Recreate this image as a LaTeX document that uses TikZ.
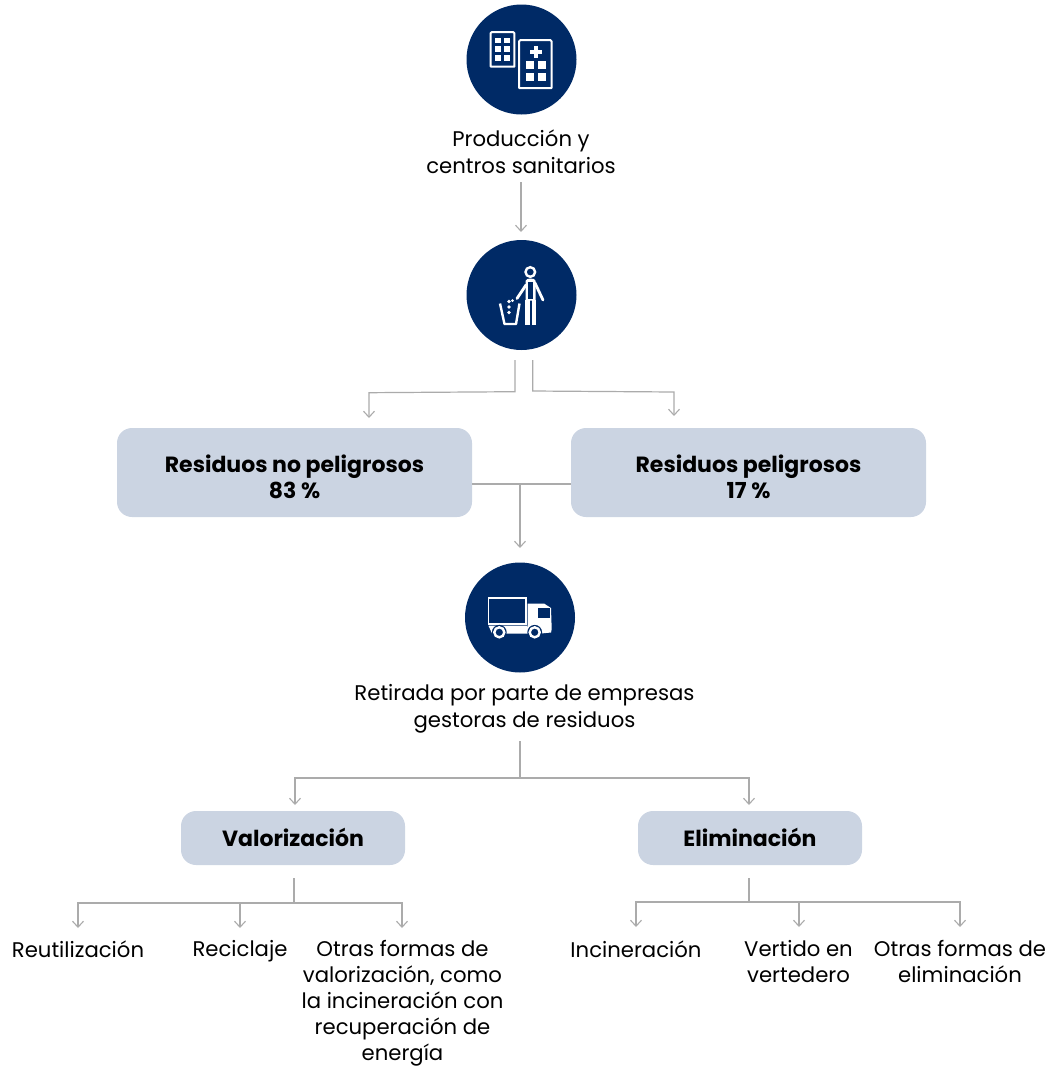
\documentclass[tikz,border=0pt]{standalone}
\usepackage{fontspec}
\setmainfont{Poppins}
\usetikzlibrary{arrows.meta,calc}
\definecolor{navy}{HTML}{002A66}
\definecolor{boxfill}{HTML}{CBD4E2}
\definecolor{conn}{HTML}{ABABAB}
\tikzset{
  x=1pt,y=-1pt,
  disc/.style={circle,fill=navy,draw=none,minimum size=110pt,inner sep=0pt},
  panel/.style={rounded corners=15pt,fill=boxfill,draw=none,inner sep=0pt,align=center,font=\fontsize{22}{26}\selectfont\bfseries},
  lab/.style={align=center,inner sep=0pt,font=\fontsize{21.2}{27}\selectfont},
  labtight/.style={align=center,inner sep=0pt,font=\fontsize{21.2}{25.8}\selectfont},
  link/.style={draw=conn,line width=1.2pt},
  linkarrow/.style={link,-{Straight Barb[length=6pt,width=11pt,line width=1.1pt]}},
  iconline/.style={draw=white,line width=2pt,line join=round},
}
\begin{document}
\begin{tikzpicture}
\useasboundingbox (0,0) rectangle (1055,1066);
% discs
\node[disc] (d1) at (521.5,59.5) {};
\node[disc] (d2) at (521.5,295) {};
\node[disc] (d3) at (520,617.5) {};
% labels
\node[lab,anchor=center] (t1) at (521,152) {Producción y\\centros sanitarios};
\node[lab,anchor=center] (t3) at (524.5,709) {Retirada por parte de empresas\\gestoras de residuos};
% panels
\node[panel,minimum width=355pt,minimum height=89pt] (noP) at (294.5,472.5) {\parbox{340pt}{\vspace*{8pt}\centering Residuos no peligrosos\\83 \%}};
\node[panel,minimum width=355pt,minimum height=89pt] (siP) at (748.5,472.5) {\parbox{340pt}{\vspace*{8pt}\centering Residuos peligrosos\\17 \%}};
\node[panel,minimum width=224pt,minimum height=54pt] (val) at (293,838) {\parbox{200pt}{\centering Valorización\par\vspace*{2pt}}};
\node[panel,minimum width=224pt,minimum height=54pt] (eli) at (750,838) {\parbox{200pt}{\centering Eliminación\par\vspace*{2pt}}};
% bottom labels
\node[labtight,anchor=north] (a1) at (78,940.5) {Reutilización};
\node[labtight,anchor=north] (a2) at (240,940.5) {Reciclaje};
\node[labtight,anchor=north] (a3) at (402.5,940.5) {Otras formas de\\valorización, como\\la incineración con\\recuperación de\\energía};
\node[labtight,anchor=north] (b1) at (636,940.5) {Incineración};
\node[labtight,anchor=north] (b2) at (798.5,940.5) {Vertido en\\vertedero};
\node[labtight,anchor=north] (b3) at (960,940.5) {Otras formas de\\eliminación};
% connector points
\coordinate (c1s) at (521,182);
\coordinate (c1e) at (521,232);
\coordinate (lS) at (515,360);
\coordinate (lE) at (369,418);
\coordinate (rS) at (532.7,360);
\coordinate (rE) at (674,416);
\coordinate (j1) at (520,484);
\coordinate (j1e) at (520,548);
\coordinate (r0) at (520,741);
\coordinate (r1) at (520,778);
\coordinate (rL) at (295,805);
\coordinate (rR) at (749,805);
\coordinate (v0) at (294,878);
\coordinate (v1) at (294,903);
\coordinate (vA) at (78,928);
\coordinate (vB) at (240,928);
\coordinate (vC) at (402,928);
\coordinate (e0) at (749,878);
\coordinate (e1) at (749,902);
\coordinate (eA) at (636,927);
\coordinate (eB) at (799,927);
\coordinate (eC) at (960,927);
% connectors
\draw[linkarrow] (c1s) -- (c1e);
\draw[linkarrow] (lS) -- (515,391.7) -- (369,392.7) -- (lE);
\draw[linkarrow] (rS) -- (532.7,391) -- (674,392) -- (rE);
\draw[link] (noP.east |- j1) -- (siP.west |- j1);
\draw[linkarrow] (j1) -- (j1e);
\draw[link] (r0) -- (r1);
\draw[linkarrow] (r1) -- (295,778) -- (rL);
\draw[linkarrow] (r1) -- (749,778) -- (rR);
\draw[link] (v0) -- (v1);
\draw[linkarrow] (v1) -- (78,903) -- (vA);
\draw[linkarrow] (240,903) -- (vB);
\draw[linkarrow] (v1) -- (402,903) -- (vC);
\draw[link] (e0) -- (e1);
\draw[linkarrow] (e1) -- (636,902) -- (eA);
\draw[linkarrow] (799,902) -- (eB);
\draw[linkarrow] (e1) -- (960,902) -- (eC);
% icon: buildings
\draw[iconline] (490.7,66.7) -- (490.7,33) -- (492,32) -- (513,32) -- (514.3,33) -- (514.3,66.7) -- cycle;
\foreach \yy in {37.7,46,55}{
  \fill[white] (495.3,\yy) rectangle +(5.6,5.6);
  \fill[white] (504.3,\yy) rectangle +(5.6,5.6);
}
\fill[navy] (517,38) rectangle (553,90);
\draw[iconline] (519,88) -- (519,41.5) -- (520.5,40) -- (550.2,40) -- (551.7,41.5) -- (551.7,88) -- cycle;
\fill[white] (529.7,49.7) rectangle (541.7,53.7);
\fill[white] (533.7,45.7) rectangle (537.7,57.7);
\foreach \yy in {61,73}{
  \fill[white] (526,\yy) rectangle +(8,8);
  \fill[white] (538,\yy) rectangle +(8,8);
}
% icon: person and bin
\draw[white,line width=2.4pt] (530.3,272) circle (4.8);
\fill[white] (525.5,281) .. controls (526,279) and (528,278.5) .. (530.5,278.5) .. controls (533,278.5) and (535.5,279) .. (535.7,281) -- (535.7,300.5) -- (525.5,300.5) -- cycle;
\fill[navy] (527.8,281.5) rectangle (533.4,298.5);
\draw[white,line width=2.8pt,line cap=round] (526,285) -- (517,298.5);
\draw[white,line width=2.8pt,line cap=round] (535,283) -- (543,300);
\fill[white] (525,300) rectangle (529.8,325);
\fill[white] (531.9,300) rectangle (536,325);
\draw[white,line width=2.4pt,line join=round] (500,303.5) -- (504.5,324) -- (516,324) -- (519.5,303.5);
\fill[white] (509,301.5) circle (1.9);
\fill[white] (512.5,300.5) circle (1.5);
\fill[white] (509,307) circle (1.9);
\fill[white] (509,312.5) circle (1.9);
% icon: truck
\draw[white,line width=1.4pt] (488.5,598) rectangle (526,624);
\fill[white] (527.7,603.5) -- (544,603.5) -- (551,608) -- (551.7,629) -- (551,632.5) -- (541,633.5) -- (528,633.5) -- (528,625.7) -- (527.7,625.7) -- cycle;
\fill[white] (488.5,625.7) -- (527.7,625.7) -- (528,633.5) -- (492,633.5) -- cycle;
\fill[navy] (538.3,608.3) rectangle (550,618.3);
\fill[navy] (499.3,632.3) circle (7.4);
\fill[navy] (534.7,632.3) circle (7.4);
\draw[white,line width=2.4pt] (499.3,632.3) circle (5);
\draw[white,line width=2.4pt] (534.7,632.3) circle (5);
\end{tikzpicture}
\end{document}
